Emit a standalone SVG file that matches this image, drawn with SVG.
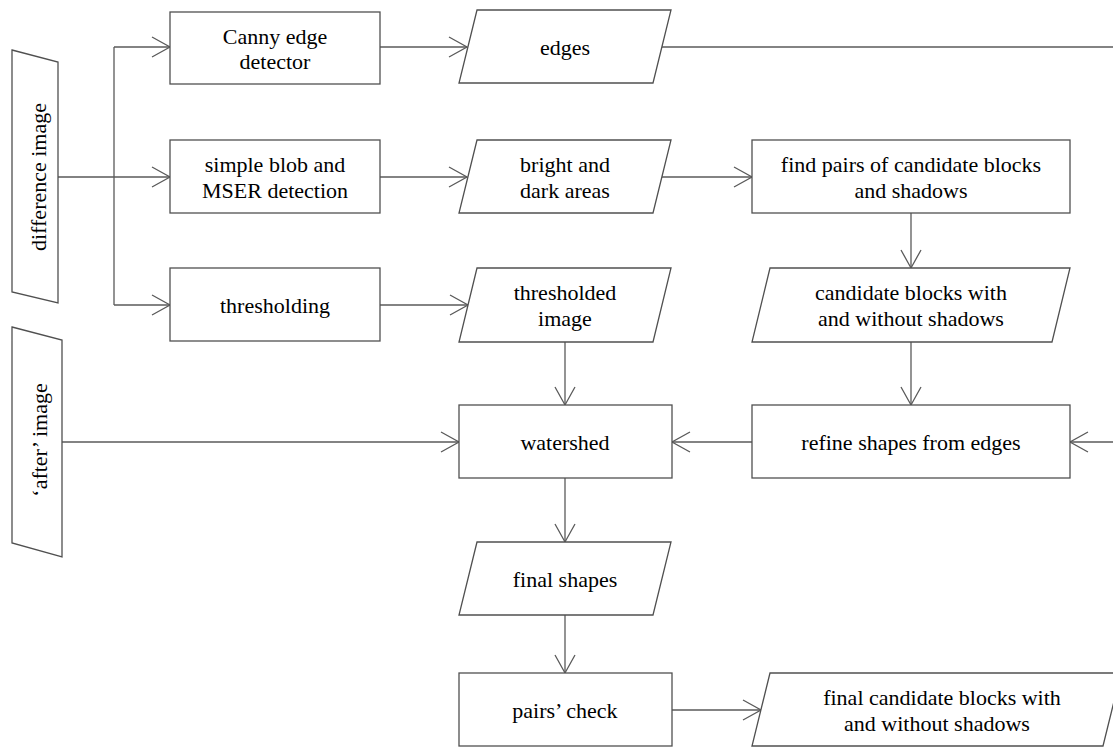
<svg xmlns="http://www.w3.org/2000/svg" width="1113" height="747" viewBox="0 0 1113 747">
<style>
.n{fill:#fff;stroke:#505050;stroke-width:1.3}
.t{font-family:"Liberation Serif","Times New Roman",serif;font-size:22px;fill:#000;text-anchor:middle}
.c{fill:none;stroke:#5a5a5a;stroke-width:1.3}
.a{marker-end:url(#arr)}
</style>
<defs>
<marker id="arr" markerUnits="userSpaceOnUse" markerWidth="22" markerHeight="24" viewBox="-1 -1 22 24" refX="18" refY="10" orient="auto">
<path d="M0,0 L18,10 L0,20" fill="none" stroke="#5a5a5a" stroke-width="1.3"/>
</marker>
</defs>
<rect width="1113" height="747" fill="#fff"/>
<g id="connectors">
<path class="c" d="M58,177 H114 M114,47 V305"/>
<path class="c a" d="M114,47 H170"/>
<path class="c a" d="M114,177 H170"/>
<path class="c a" d="M114,305 H170"/>
<path class="c a" d="M380,47 H467"/>
<path class="c" d="M662,47 H1113"/>
<path class="c a" d="M1113,442 H1070"/>
<path class="c a" d="M380,177 H467"/>
<path class="c a" d="M662,177 H752"/>
<path class="c a" d="M380,305 H468"/>
<path class="c a" d="M565,342 V405"/>
<path class="c a" d="M911,213 V268"/>
<path class="c a" d="M911,342 V405"/>
<path class="c a" d="M752,442 H672"/>
<path class="c a" d="M62,442 H459"/>
<path class="c a" d="M565,478 V542"/>
<path class="c a" d="M565,615 V673"/>
<path class="c a" d="M672,710 H761"/>
</g>
<g id="difference-image">
<polygon class="n" points="12,50 58,62 58,303 12,292"/>
<text class="t" x="46" y="177" transform="rotate(-90 46 177)">difference image</text>
</g>
<g id="after-image">
<polygon class="n" points="12,327 62,340 62,557 12,543"/>
<text class="t" x="47" y="440" transform="rotate(-90 47 440)">‘after’ image</text>
</g>
<g id="canny">
<rect class="n" x="170" y="12" width="210" height="72"/>
<text class="t" x="275" y="44">Canny edge</text>
<text class="t" x="275" y="69">detector</text>
</g>
<g id="blob">
<rect class="n" x="170" y="140" width="210" height="73"/>
<text class="t" x="275" y="172">simple blob and</text>
<text class="t" x="275" y="198">MSER detection</text>
</g>
<g id="thresholding">
<rect class="n" x="170" y="268" width="210" height="73"/>
<text class="t" x="275" y="313">thresholding</text>
</g>
<g id="edges">
<polygon class="n" points="477,10 671,10 653,83 459,83"/>
<text class="t" x="565" y="55">edges</text>
</g>
<g id="bright-dark">
<polygon class="n" points="477,140 671,140 653,213 459,213"/>
<text class="t" x="565" y="172">bright and</text>
<text class="t" x="565" y="198">dark areas</text>
</g>
<g id="thresholded-image">
<polygon class="n" points="477,268 671,268 653,342 459,342"/>
<text class="t" x="565" y="300">thresholded</text>
<text class="t" x="565" y="326">image</text>
</g>
<g id="find-pairs">
<rect class="n" x="752" y="140" width="318" height="73"/>
<text class="t" x="911" y="172">find pairs of candidate blocks</text>
<text class="t" x="911" y="198">and shadows</text>
</g>
<g id="candidate-blocks">
<polygon class="n" points="770,268 1070,268 1052,342 752,342"/>
<text class="t" x="911" y="300">candidate blocks with</text>
<text class="t" x="911" y="326">and without shadows</text>
</g>
<g id="refine">
<rect class="n" x="752" y="405" width="318" height="73"/>
<text class="t" x="911" y="450">refine shapes from edges</text>
</g>
<g id="watershed">
<rect class="n" x="459" y="405" width="213" height="73"/>
<text class="t" x="565" y="450">watershed</text>
</g>
<g id="final-shapes">
<polygon class="n" points="477,542 671,542 653,615 459,615"/>
<text class="t" x="565" y="587">final shapes</text>
</g>
<g id="pairs-check">
<rect class="n" x="459" y="673" width="213" height="73"/>
<text class="t" x="565" y="718">pairs’ check</text>
</g>
<g id="final-candidates">
<polygon class="n" points="770,673 1121,673 1103,746 752,746"/>
<text class="t" x="942" y="705">final candidate blocks with</text>
<text class="t" x="937" y="731">and without shadows</text>
</g>
</svg>
